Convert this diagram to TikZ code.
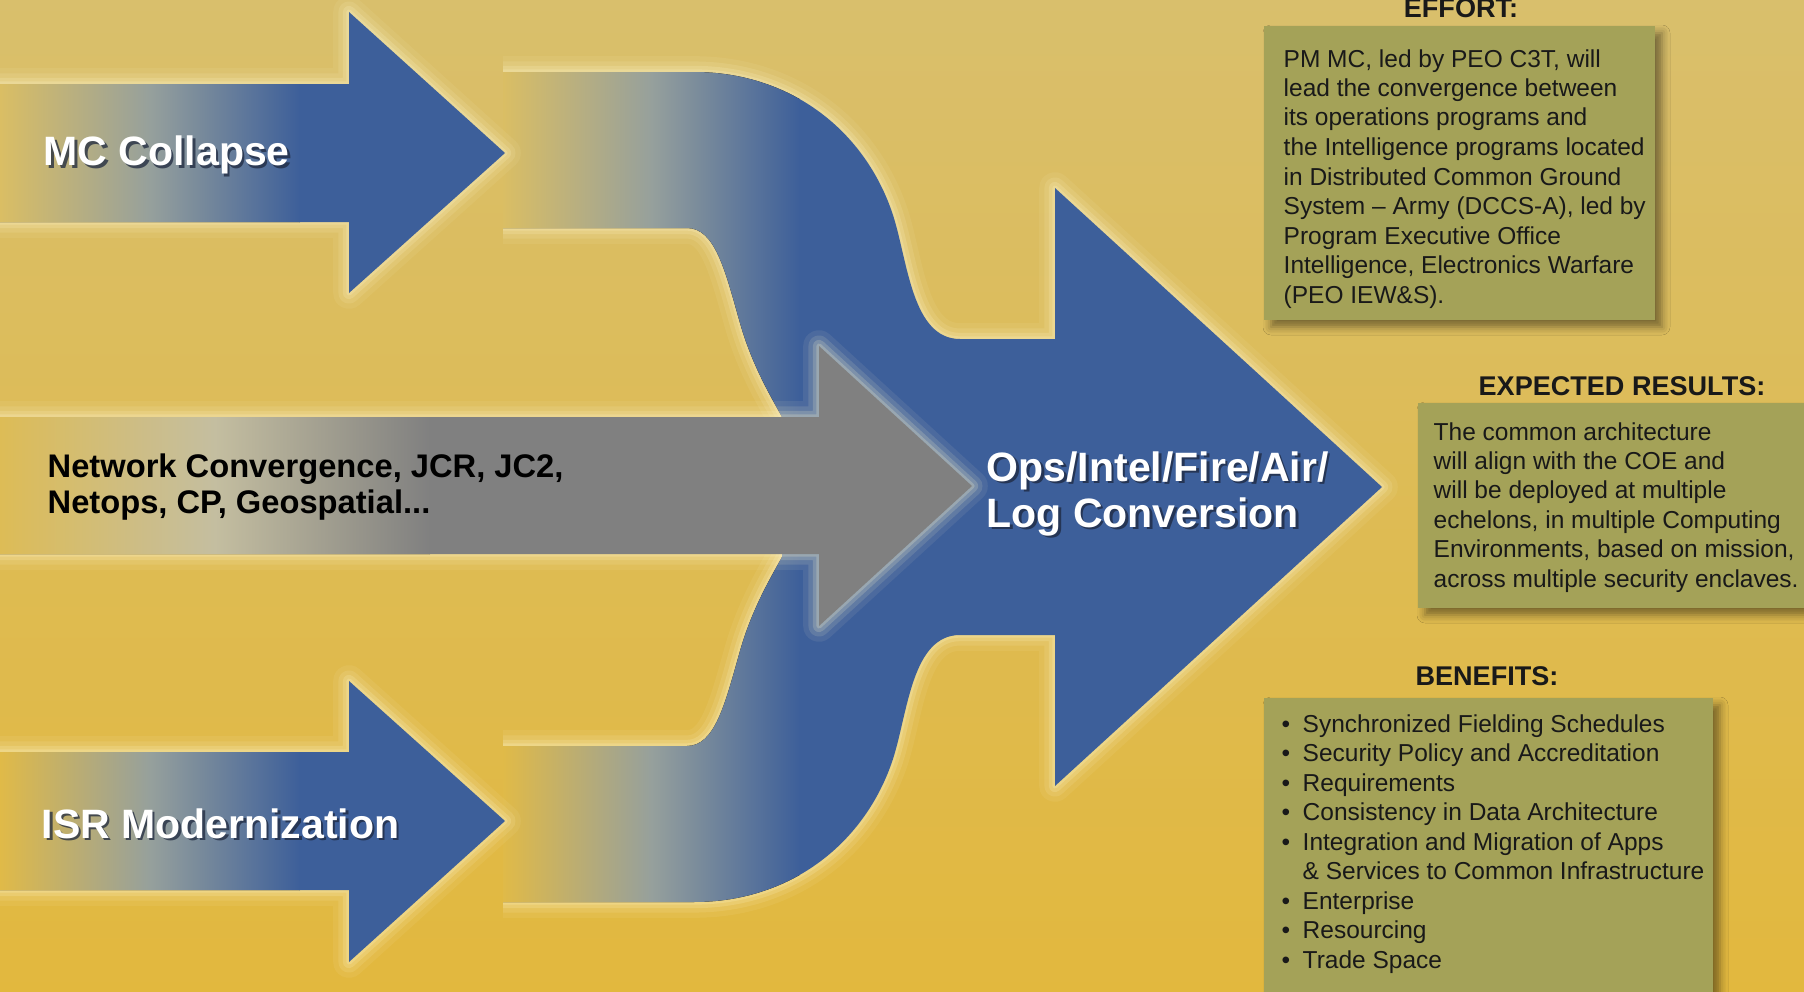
\documentclass[tikz,border=0pt]{standalone}
\usepackage{fontspec}
\setmainfont{Liberation Sans}
\usetikzlibrary{shadows.blur}
\definecolor{bgtop}{RGB}{217,191,108}
\definecolor{bgbot}{RGB}{226,184,62}
\definecolor{bgmc}{RGB}{218,190,100}
\definecolor{bgnet}{RGB}{221,188,86}
\definecolor{bgisr}{RGB}{224,186,72}
\definecolor{blu}{RGB}{61,95,154}
\definecolor{blumid}{RGB}{150,160,156}
\definecolor{grayc}{RGB}{128,128,128}
\definecolor{graymid}{RGB}{196,190,160}
\definecolor{glowc}{RGB}{255,246,205}
\definecolor{boxc}{RGB}{164,162,88}
\definecolor{shadc}{RGB}{30,40,62}
\begin{document}
\begin{tikzpicture}[x=0.1mm,y=-0.1mm,
  glowa/.style={draw=glowc,line width=9pt,opacity=0.08,line join=round},
  glowb/.style={draw=glowc,line width=6pt,opacity=0.12,line join=round},
  glowc/.style={draw=glowc,line width=3.5pt,opacity=0.18,line join=round},
  glowd/.style={draw=glowc,line width=1.5pt,opacity=0.22,line join=round},
  biglbl/.style={inner sep=0pt,anchor=base west,font=\fontsize{11.67pt}{14pt}\selectfont\bfseries},
  whitelbl/.style={biglbl,text=white},
  shadlbl/.style={biglbl,text=shadc,opacity=0.75},
  netlbl/.style={inner sep=0pt,anchor=base west,text=black,font=\fontsize{9.3pt}{11pt}\selectfont\bfseries},
  boxtxt/.style={inner sep=0pt,anchor=base west,text=black!90,font=\fontsize{6.97pt}{8.4pt}\selectfont},
  boxtitle/.style={inner sep=0pt,anchor=base,text=black!90,font=\fontsize{7.7pt}{9pt}\selectfont\bfseries},
  boxshadow/.style={blur shadow={shadow xshift=0.7mm,shadow yshift=-0.7mm,shadow blur radius=0.8mm,shadow opacity=45}}]
\useasboundingbox (0,0) rectangle (1804,992);
% background
\shade[top color=bgtop,bottom color=bgbot] (0,0) rectangle (1804,992);

\def\bluepath{(503,72) -- (694,72) .. controls (790,72) and (865,130) .. (893,215) .. controls (908,262) and (912,339) .. (960,339) -- (1055,339) -- (1055,188) -- (1382,487) -- (1055,786) -- (1055,635) -- (960,635) .. controls (912,635) and (908,712) .. (893,759) .. controls (865,844) and (790,902) .. (694,902) -- (503,902) -- (503,746) -- (687,746) .. controls (715,746) and (725,704) .. (740,651) .. controls (752,609) and (770,579) .. (782,557) -- (782,417) .. controls (770,395) and (752,365) .. (740,323) .. controls (725,270) and (715,228) .. (687,228) -- (503,228) -- cycle}
\def\mcpath{(0,84) -- (349,84) -- (349,12) -- (505,153) -- (349,293) -- (349,222) -- (0,222) -- cycle}
\def\isrpath{(0,752) -- (349,752) -- (349,681) -- (505,821) -- (349,962) -- (349,890) -- (0,890) -- cycle}
\def\graypath{(0,417) -- (819,417) -- (819,346) -- (972,486) -- (819,626) -- (819,554) -- (0,554) -- cycle}

% big blue merged arrow
\begin{scope}
  \clip (503,0) rectangle (1804,992);
  \path[glowa] \bluepath; \path[glowb] \bluepath; \path[glowc] \bluepath; \path[glowd] \bluepath;
\end{scope}
\begin{scope}
  \clip \bluepath;
  \fill[left color=bgmc,right color=blu,middle color=blumid] (503,0) rectangle (800,487);
  \fill[left color=bgisr,right color=blu,middle color=blumid] (503,487) rectangle (800,992);
  \fill[blu] (799,0) rectangle (1400,992);
\end{scope}

% MC arrow
\path[glowa] \mcpath; \path[glowb] \mcpath; \path[glowc] \mcpath; \path[glowd] \mcpath;
\begin{scope}
  \clip \mcpath;
  \fill[left color=bgmc,right color=blu,middle color=blumid] (0,0) rectangle (300,300);
  \fill[blu] (299,0) rectangle (520,300);
\end{scope}

% ISR arrow
\path[glowa] \isrpath; \path[glowb] \isrpath; \path[glowc] \isrpath; \path[glowd] \isrpath;
\begin{scope}
  \clip \isrpath;
  \fill[left color=bgisr,right color=blu,middle color=blumid] (0,670) rectangle (300,970);
  \fill[blu] (299,670) rectangle (520,970);
\end{scope}

% gray arrow
\path[glowa] \graypath; \path[glowb] \graypath; \path[glowc] \graypath; \path[glowd] \graypath;
\begin{scope}
  \clip \graypath;
  \fill[left color=bgnet,right color=grayc,middle color=graymid] (0,340) rectangle (430,630);
  \fill[grayc] (429,340) rectangle (980,630);
\end{scope}

% labels on arrows
\node[shadlbl] (mcsh) at (45.5,168.5) {MC Collapse};
\node[whitelbl] (mc) at (43,166) {MC Collapse};
\node[shadlbl] (isrsh) at (43.5,840.5) {ISR Modernization};
\node[whitelbl] (isr) at (41,838) {ISR Modernization};
\node[shadlbl] (ops1sh) at (988.5,483.5) {Ops/Intel/Fire/Air/};
\node[whitelbl] (ops1) at (986,481) {Ops/Intel/Fire/Air/};
\node[shadlbl] (ops2sh) at (988.5,529.5) {Log Conversion};
\node[whitelbl] (ops2) at (986,527) {Log Conversion};
\node[netlbl] (net1) at (47,477) {Network Convergence, JCR, JC2,};
\node[netlbl] (net2) at (47,513) {Netops, CP, Geospatial...};

% EFFORT box
\fill[boxc,boxshadow] (1264,26) rectangle (1655,320);
\node[boxtitle] (efft) at (1461,17) {EFFORT:};
\foreach \t [count=\i from 0] in {{PM MC, led by PEO C3T, will},{lead the convergence between},{its operations programs and},{the Intelligence programs located},{in Distributed Common Ground},{System – Army (DCCS-A), led by},{Program Executive Office},{Intelligence, Electronics Warfare},{(PEO IEW\&S).}}
  \node[boxtxt] (eff\i) at (1283,{67+29.5*\i}) {\t};

% EXPECTED RESULTS box
\fill[boxc,boxshadow] (1418,403) rectangle (1815,608);
\node[boxtitle] (expt) at (1622,395) {EXPECTED RESULTS:};
\foreach \t [count=\i from 0] in {{The common architecture},{will align with the COE and},{will be deployed at multiple},{echelons, in multiple Computing},{Environments, based on mission,},{across multiple security enclaves.}}
  \node[boxtxt] (exp\i) at (1433,{440+29.4*\i}) {\t};

% BENEFITS box
\fill[boxc,boxshadow] (1264,698) rectangle (1713,1005);
\node[boxtitle] (bent) at (1487,685) {BENEFITS:};
\foreach \t/\b [count=\i from 0] in {{Synchronized Fielding Schedules}/1,{Security Policy and Accreditation}/1,{Requirements}/1,{Consistency in Data Architecture}/1,{Integration and Migration of Apps}/1,{\& Services to Common Infrastructure}/0,{Enterprise}/1,{Resourcing}/1,{Trade Space}/1}{
  \node[boxtxt] (ben\i) at (1302,{732+29.5*\i}) {\t};
  \ifnum\b=1 \node[boxtxt] (bul\i) at (1281,{732+29.5*\i}) {\textbullet};\fi
}
\end{tikzpicture}
\end{document}
